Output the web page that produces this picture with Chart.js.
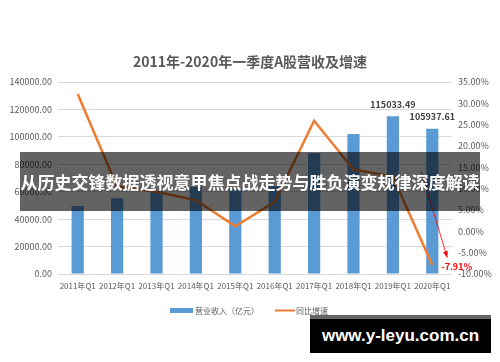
<!DOCTYPE html>
<html>
<head>
<meta charset="utf-8">
<script src="https://cdn.jsdelivr.net/npm/chart.js@4.4.1/dist/chart.umd.min.js"></script>
<style>
  html, body { margin: 0; padding: 0; background: #fff; }
  #wrap { position: relative; width: 500px; height: 362px; overflow: hidden; }
  #banner {
    position: absolute; left: 20px; top: 152px; width: 460px; height: 59px;
    background: rgba(0, 0, 0, 0.61); color: #fff;
    font: bold 17px "Noto Sans CJK SC", sans-serif;
    line-height: 59px; text-align: center; white-space: nowrap;
  }
  #mark {
    position: absolute; left: 310px; top: 315px; width: 181px; height: 38px;
    background: #000; border-top: 4px solid #666; box-sizing: border-box;
    color: #fff; font: bold 17px "Liberation Sans", sans-serif;
    line-height: 33px; text-align: center; white-space: nowrap;
  }
</style>
</head>
<body>
<div id="wrap">
  <canvas id="yingshouChart" width="500" height="362"></canvas>
  <div id="banner">从历史交锋数据透视意甲焦点战走势与胜负演变规律深度解读</div>
  <div id="mark">www.y-leyu.com.cn</div>
</div>
<script>
const kuartal = ["2011年Q1", "2012年Q1", "2013年Q1", "2014年Q1", "2015年Q1",
  "2016年Q1", "2017年Q1", "2018年Q1", "2019年Q1", "2020年Q1"];
// * 营业收入 (亿元)
const pendapatan = [49600, 55200, 60500, 63500, 62000, 64000, 88000, 102100, 115033.49, 105937.61];
// * 同比增速
const pertumbuhan = [0.322, 0.105, 0.093, 0.073, 0.012, 0.069, 0.259, 0.145, 0.128, -0.0791];
const labelDitampilkan = [8, 9]; // bar yang ada angkanya
const judul = "2011年-2020年一季度A股营收及增速";
const namaSeri = ["营业收入（亿元）", "同比增速"];
const warna = ["#5B9BD5", "#ED7D31"];
const fontCJK = "'Noto Sans CJK SC', sans-serif";
const abu = "#595959";

// ? judul, legend, label angka dan panah
const hiasan = {
  id: "hiasan",
  afterDraw(chart) {
    const ctx = chart.ctx;
    const x = chart.scales.x;
    const y = chart.scales.y;
    const y1 = chart.scales.y1;
    ctx.save();
    // judul
    ctx.fillStyle = abu;
    ctx.font = "bold 14px " + fontCJK;
    ctx.textAlign = "center";
    ctx.textBaseline = "middle";
    ctx.fillText(judul, 250, 62);

    // label angka di atas bar
    ctx.fillStyle = "#404040";
    ctx.font = "bold 9px " + fontCJK;
    labelDitampilkan.forEach((i) => {
      ctx.fillText(pendapatan[i].toFixed(2), x.getPixelForValue(i), y.getPixelForValue(pendapatan[i]) - 12);
    });

    // panah merah ke titik terakhir
    const n = pertumbuhan.length - 1;
    const xs = x.getPixelForValue(n) - 11;
    const ys = y1.getPixelForValue(0.14);
    const xe = x.getPixelForValue(n) + 15;
    const ye = y1.getPixelForValue(-0.062);
    ctx.strokeStyle = "#FF0000";
    ctx.fillStyle = "#FF0000";
    ctx.lineWidth = 0.8;
    ctx.beginPath();
    ctx.moveTo(xs, ys);
    ctx.lineTo(xe, ye);
    ctx.stroke();
    const sudut = Math.atan2(ye - ys, xe - xs);
    ctx.beginPath();
    ctx.moveTo(xe, ye);
    ctx.lineTo(xe - 7 * Math.cos(sudut - 0.35), ye - 7 * Math.sin(sudut - 0.35));
    ctx.lineTo(xe - 7 * Math.cos(sudut + 0.35), ye - 7 * Math.sin(sudut + 0.35));
    ctx.closePath();
    ctx.fill();
    ctx.font = "bold 9px " + fontCJK;
    ctx.textAlign = "left";
    ctx.fillText((pertumbuhan[n] * 100).toFixed(2) + "%", x.getPixelForValue(n) + 9, y1.getPixelForValue(pertumbuhan[n]) + 1);

    // legend
    ctx.font = "8px " + fontCJK;
    ctx.fillStyle = warna[0];
    ctx.fillRect(170, 308, 23, 5);
    ctx.fillStyle = abu;
    ctx.fillText(namaSeri[0], 195, 311);
    ctx.strokeStyle = warna[1];
    ctx.lineWidth = 2;
    ctx.beginPath();
    ctx.moveTo(275, 310.5);
    ctx.lineTo(295, 310.5);
    ctx.stroke();
    ctx.fillStyle = abu;
    ctx.fillText(namaSeri[1], 296, 311);
    ctx.restore();
  },
};

const chartCanvas = document.getElementById("yingshouChart").getContext("2d");
const chartData = {
  labels: kuartal,
  datasets: [
    {
      type: "line",
      label: namaSeri[1],
      data: pertumbuhan,
      borderColor: warna[1],
      backgroundColor: warna[1],
      borderWidth: 2.5,
      pointRadius: 0,
      tension: 0,
      yAxisID: "y1",
    },
    {
      type: "bar",
      label: namaSeri[0],
      data: pendapatan,
      backgroundColor: warna[0],
      categoryPercentage: 1,
      barPercentage: 0.31,
      yAxisID: "y",
    },
  ],
};

const yingshouChart = new Chart(chartCanvas, {
  data: chartData,
  plugins: [hiasan],
  options: {
    responsive: false,
    animation: false,
    layout: { padding: { top: 82, bottom: 70, left: 0, right: 0 } },
    plugins: {
      legend: { display: false },
      title: { display: false },
      tooltip: { enabled: false },
    },
    scales: {
      x: {
        grid: { display: false, drawTicks: false },
        border: { display: false },
        ticks: { color: abu, font: { size: 8, family: fontCJK }, padding: 7, maxRotation: 0, autoSkip: false },
        afterFit(scale) { scale.height = 18; },
      },
      y: {
        position: "left",
        min: 0,
        max: 140000,
        grid: { color: "#D9D9D9", drawTicks: false },
        border: { display: false },
        ticks: {
          stepSize: 20000,
          color: abu,
          padding: 6,
          font: { size: 9, family: fontCJK },
          callback: (v) => v.toFixed(2),
        },
        afterFit(scale) { scale.width = 58; },
      },
      y1: {
        position: "right",
        min: -0.1,
        max: 0.35,
        grid: { display: false, drawTicks: false },
        border: { display: false },
        ticks: {
          stepSize: 0.05,
          color: abu,
          padding: 6,
          font: { size: 9, family: fontCJK },
          callback: (v) => (Math.round(v * 1000) / 10).toFixed(2) + "%",
        },
        afterFit(scale) { scale.width = 48; },
      },
    },
  },
});
</script>
</body>
</html>
